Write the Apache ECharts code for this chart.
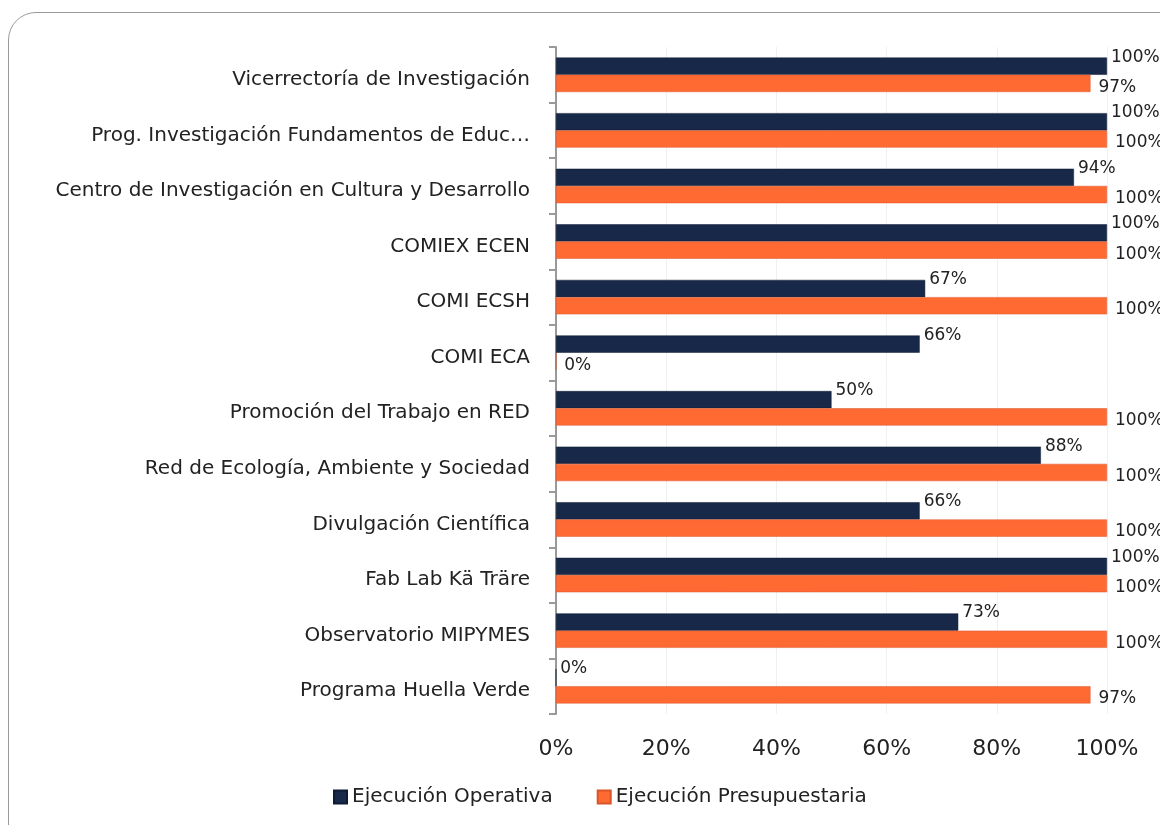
<!DOCTYPE html>
<html><head><meta charset="utf-8">
<script src="https://cdn.jsdelivr.net/npm/echarts@6/dist/echarts.min.js"></script>
<style>
html,body{margin:0;padding:0;background:#fff;overflow:hidden;}
#frame{position:absolute;left:8px;top:12px;width:1180px;height:840px;border:1px solid #9a9a9a;border-radius:28px;box-sizing:border-box;}
#c{position:absolute;left:0;top:0;width:1160px;height:825px;}
</style></head>
<body>
<div id="frame"></div>
<div id="c"></div>
<script>
const categories = [
  "Vicerrectoría de Investigación",
  "Prog. Investigación Fundamentos de Educ…",
  "Centro de Investigación en Cultura y Desarrollo",
  "COMIEX ECEN",
  "COMI ECSH",
  "COMI ECA",
  "Promoción del Trabajo en RED",
  "Red de Ecología, Ambiente y Sociedad",
  "Divulgación Científica",
  "Fab Lab Kä Träre",
  "Observatorio MIPYMES",
  "Programa Huella Verde"
];
const operativa = [100, 100, 94, 100, 67, 66, 50, 88, 66, 100, 73, 0];
const presupuestaria = [97, 100, 100, 100, 100, 0, 100, 100, 100, 100, 100, 97];
const xTicks = [0, 20, 40, 60, 80, 100];

const FONT = "DejaVu Sans";
const chart = echarts.init(document.getElementById('c'));
chart.setOption({
  animation: false,
  textStyle: {fontFamily: FONT},
  grid: {left: 556, right: 53, top: 47, bottom: 111, containLabel: false},
  legend: {
    left: 328, top: 782, itemWidth: 13, itemHeight: 13, itemGap: 44,
    icon: 'rect',
    textStyle: {fontSize: 20, color: '#222', fontFamily: FONT},
    data: ['Ejecución Operativa', 'Ejecución Presupuestaria']
  },
  xAxis: {
    type: 'value', min: 0, max: 100, interval: 20,
    axisLine: {show: false}, axisTick: {show: false},
    splitLine: {show: true, lineStyle: {color: '#f0f0f0', width: 1}},
    axisLabel: {
      formatter: v => xTicks.includes(v) ? v + '%' : '',
      fontSize: 22, color: '#222', margin: 24, fontFamily: FONT
    }
  },
  yAxis: {
    type: 'category', data: categories, inverse: true,
    axisLine: {show: true, lineStyle: {color: '#999', width: 2}},
    axisTick: {show: true, length: 7, lineStyle: {color: '#999', width: 2}},
    axisLabel: {
      margin: 26,
      formatter: v => '{a|' + v + '}',
      rich: {a: {fontSize: 20, color: '#222', fontFamily: FONT, padding: [10, 0, 0, 0]}}
    }
  },
  series: [
    {
      name: 'Ejecución Operativa', type: 'bar', data: operativa,
      barGap: '0%', barCategoryGap: '38%',
      itemStyle: {color: '#172848', borderColor: '#0e1a33', borderWidth: 0.5},
      label: {show: true, position: 'right', distance: 4, offset: [0, -9],
        formatter: p => p.value + '%', fontSize: 17, color: '#222', fontFamily: FONT}
    },
    {
      name: 'Ejecución Presupuestaria', type: 'bar', data: presupuestaria,
      itemStyle: {color: '#ff6a33', borderColor: '#d9552a', borderWidth: 0.5},
      label: {show: true, position: 'right', distance: 8, offset: [0, 4],
        formatter: p => p.value + '%', fontSize: 17, color: '#222', fontFamily: FONT}
    }
  ]
});
</script>
</body></html>
